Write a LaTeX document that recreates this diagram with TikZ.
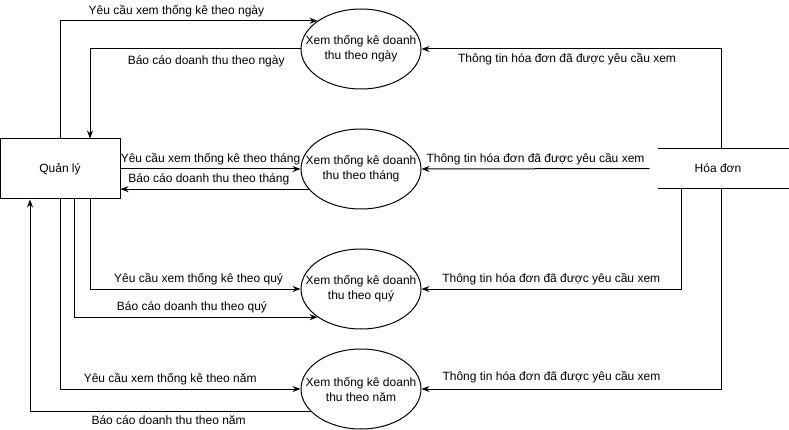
\documentclass[tikz,border=0pt]{standalone}
\usepackage{fontspec}
\setmainfont{Liberation Sans}
\usetikzlibrary{arrows.meta,shapes.geometric}
\begin{document}
\begin{tikzpicture}[x=1pt,y=-1pt,>={Stealth[length=8pt,width=6pt]},line width=1pt,
	font=\fontsize{12}{15}\selectfont,
	xuly/.style={ellipse,draw,minimum width=120pt,minimum height=80pt,inner xsep=-20pt,inner ysep=0pt,align=center}]
	\useasboundingbox (0,0) rectangle (789,430);
	\node[draw,minimum width=120pt,minimum height=60pt,inner sep=0pt] (QL) at (60,169) {Quản lý};
	\node[xuly] (E1) at (361,49) {Xem thống kê doanh\\thu theo ngày};
	\node[xuly] (E2) at (361,169) {Xem thống kê doanh\\thu theo tháng};
	\node[xuly] (E3) at (361,289) {Xem thống kê doanh\\thu theo quý};
	\node[xuly] (E4) at (361,389) {Xem thống kê doanh\\thu theo năm};
	\node[minimum width=130pt,minimum height=39pt,inner sep=0pt] (HD) at (723,168.5) {Hóa đơn\hspace*{10pt}};
	\draw (HD.north west) -- (HD.north east) (HD.south west) -- (HD.south east);
	\draw[->] (QL.north) |- (E1.147)
	node[pos=0.726, above]{Yêu cầu xem thống kê theo ngày};
	\draw[->] (E1.west) -| ([xshift=30pt]QL.north)
	node[pos=0.224, below, yshift=-3pt]{Báo cáo doanh thu theo ngày};
	\draw[->] (QL.east) -- (E2.west)
	node[midway, above]{Yêu cầu xem thống kê theo tháng};
	\draw[->] (E2.201) -- (E2.201 -| QL.east)
	node[pos=0.53, above]{Báo cáo doanh thu theo tháng};
	\draw[->] ([xshift=30pt]QL.south) |- (E3.west)
	node[pos=0.758, above]{Yêu cầu xem thống kê theo quý};
	\draw[->] ([xshift=14pt]QL.south) |- (E3.213)
	node[pos=0.742, above]{Báo cáo doanh thu theo quý};
	\draw[->] (QL.south) |- (E4.west)
	node[pos=0.729, above]{Yêu cầu xem thống kê theo năm};
	\draw[->] (E4.204) -| ([xshift=-30pt]QL.south)
	node[pos=0.253, below]{Báo cáo doanh thu theo năm};
	\draw[->] ([xshift=-2pt]HD.north) |- (E1.east)
	node[pos=0.757, below]{Thông tin hóa đơn đã được yêu cầu xem};
	\draw[->] ([xshift=-8pt]HD.west) -- (E2.east)
	node[midway, above]{Thông tin hóa đơn đã được yêu cầu xem};
	\draw[->] ([xshift=-42pt]HD.south) |- (E3.east)
	node[pos=0.75, above]{Thông tin hóa đơn đã được yêu cầu xem};
	\draw[->] ([xshift=-2pt]HD.south) |- (E4.east)
	node[pos=0.783, above, yshift=2pt]{Thông tin hóa đơn đã được yêu cầu xem};
\end{tikzpicture}
\end{document}
